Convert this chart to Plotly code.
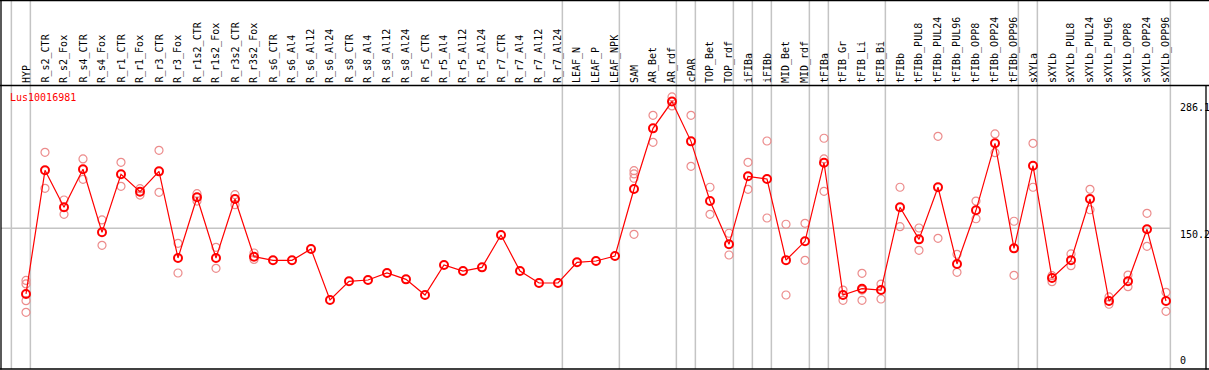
import plotly.graph_objects as go

# ---------------- data ----------------
categories = [
    "HYP", "R_s2_CTR", "R_s2_Fox", "R_s4_CTR", "R_s4_Fox", "R_r1_CTR", "R_r1_Fox",
    "R_r3_CTR", "R_r3_Fox", "R_r1s2_CTR", "R_r1s2_Fox", "R_r3s2_CTR", "R_r3s2_Fox",
    "R_s6_CTR", "R_s6_Al4", "R_s6_Al12", "R_s6_Al24", "R_s8_CTR", "R_s8_Al4",
    "R_s8_Al12", "R_s8_Al24", "R_r5_CTR", "R_r5_Al4", "R_r5_Al12", "R_r5_Al24",
    "R_r7_CTR", "R_r7_Al4", "R_r7_Al12", "R_r7_Al24", "LEAF_N", "LEAF_P", "LEAF_NPK",
    "SAM", "AR_Bet", "AR_rdf", "cPAR", "TOP_Bet", "TOP_rdf", "iFIBa", "iFIBb",
    "MID_Bet", "MID_rdf", "tFIBa", "tFIB_Gr", "tFIB_Li", "tFIB_Bi", "tFIBb",
    "tFIBb_PUL8", "tFIBb_PUL24", "tFIBb_PUL96", "tFIBb_OPP8", "tFIBb_OPP24",
    "tFIBb_OPP96", "sXYLa", "sXYLb", "sXYLb_PUL8", "sXYLb_PUL24", "sXYLb_PUL96",
    "sXYLb_OPP8", "sXYLb_OPP24", "sXYLb_OPP96",
]

means = [
    80.1, 212.1, 172.6, 213.2, 145.9, 207.8, 189.3, 211.0, 118.5, 183.3, 118.5,
    181.5, 119.9, 116.0, 116.0, 128.1, 73.7, 93.6, 95.0, 102.5, 95.7, 79.0, 111.0,
    104.6, 108.5, 143.0, 104.6, 91.8, 91.8, 113.9, 115.3, 120.6, 192.1, 256.9,
    285.5, 243.0, 179.3, 133.1, 205.7, 202.8, 116.2, 136.3, 220.2, 79.0, 85.7,
    84.3, 172.6, 138.4, 194.0, 112.1, 169.4, 240.9, 128.8, 217.0, 97.1, 116.0,
    181.5, 72.6, 93.6, 149.1, 72.6,
]

replicates = [
    [94.5, 90.8, 72.9, 60.5], [231.3, 192.9], [180.4, 165.1], [224.2, 202.5],
    [159.1, 132.0], [220.6, 195.0], [192.5, 185.7], [233.4, 188.6], [134.2, 102.5],
    [187.1, 179.3], [129.9, 107.5], [186.1, 175.4], [123.8, 117.0],
    [], [], [], [], [], [], [], [], [], [], [], [], [], [], [], [], [], [], [],
    [211.7, 208.2, 203.6, 143.8], [270.8, 242.0], [290.4, 280.8], [270.8, 216.4],
    [194.0, 165.1], [144.9, 121.7], [220.6, 191.8], [243.4, 161.2], [154.5, 79.0],
    [155.5, 116.0], [246.3, 224.2, 189.7], [84.3, 73.3], [102.1, 84.3, 73.3],
    [90.7, 74.7], [194.0, 151.9], [150.5, 126.7], [248.4, 139.5], [122.4, 103.2],
    [179.3, 160.4], [250.9, 230.9], [157.7, 100.0], [240.9, 194.0], [99.6, 93.2],
    [122.8, 110.3], [191.8, 170.0], [76.9, 69.1], [100.3, 87.9], [166.2, 131.0],
    [81.9, 61.6],
]

group_ends = [-1, 0, 28, 31, 34, 35, 37, 38, 39, 41, 42, 45, 52, 53, 60]
y_tick_values = [286.1, 150.2, 0]
y_tick_labels = ["286.1", "150.2", "0"]
gene_name = "Lus10016981"

# ---------------- geometry ----------------
W, H = 1209, 370
X0, DX = 26.0, 19.0          # pixel x of first category and spacing
Y0, SY = 369.0, 0.9368       # pixel y of value 0 and pixels per unit

def px2xd(px):
    return (px - X0) / DX

def px2yd(py):
    return (Y0 - py) / SY

def ypap(py):
    return 1 - py / H

xs = list(range(len(categories)))
rep_x, rep_y = [], []
for i, reps in enumerate(replicates):
    for v in reps:
        rep_x.append(i)
        rep_y.append(v)

MONO = "DejaVu Sans Mono"
GRAY = "#c4c4c4"

fig = go.Figure()
fig.add_trace(go.Scatter(
    x=rep_x, y=rep_y, mode="markers",
    marker=dict(symbol="circle-open", size=8, color="rgb(236,140,140)",
                line=dict(width=1.2, color="rgb(236,140,140)")),
    hoverinfo="skip", showlegend=False,
))
fig.add_trace(go.Scatter(
    x=xs, y=means, mode="lines+markers",
    line=dict(color="#ff0000", width=1.2),
    marker=dict(symbol="circle-open", size=8, color="#ff0000",
                line=dict(width=2, color="#ff0000")),
    showlegend=False,
))

shapes = []
for g in group_ends:
    xg = g + 0.23
    shapes.append(dict(type="line", xref="x", yref="paper", x0=xg, x1=xg,
                       y0=ypap(369), y1=1, line=dict(color=GRAY, width=1.5), layer="below"))
shapes.append(dict(type="line", xref="paper", yref="y", x0=1 / W, x1=1170.7 / W,
                   y0=150.2, y1=150.2, line=dict(color=GRAY, width=1.5), layer="below"))
BL = dict(color="black", width=1.3)
shapes.append(dict(type="line", xref="paper", yref="paper", x0=0, x1=1, y0=ypap(0.6), y1=ypap(0.6), line=BL))
shapes.append(dict(type="line", xref="paper", yref="paper", x0=0, x1=1, y0=ypap(85.5), y1=ypap(85.5), line=BL))
shapes.append(dict(type="line", xref="paper", yref="paper", x0=0, x1=1, y0=ypap(369), y1=ypap(369), line=BL))
shapes.append(dict(type="line", xref="paper", yref="paper", x0=1 / W, x1=1 / W, y0=ypap(0), y1=ypap(369.5), line=BL))
shapes.append(dict(type="line", xref="paper", yref="paper", x0=1206 / W, x1=1206 / W, y0=ypap(85.5), y1=ypap(369.5), line=BL))

annotations = []
for i, c in enumerate(categories):
    annotations.append(dict(
        x=i, xref="x", y=ypap(84), yref="paper", text=c, showarrow=False,
        textangle=-90, xanchor="center", yanchor="bottom",
        font=dict(family=MONO, size=10, color="black"), borderpad=0,
    ))
for v, t in zip(y_tick_values, y_tick_labels):
    if v == 0:
        annotations.append(dict(x=1179 / W, xref="paper", y=ypap(367), yref="paper", text=t,
                                showarrow=False, xanchor="left", yanchor="bottom",
                                font=dict(family=MONO, size=10, color="black"), borderpad=0))
    else:
        annotations.append(dict(x=1179 / W, xref="paper", y=v, yref="y", text=t,
                                showarrow=False, xanchor="left", yanchor="top",
                                font=dict(family=MONO, size=10, color="black"), borderpad=0))
annotations.append(dict(x=9 / W, xref="paper", y=ypap(97.5), yref="paper", text=gene_name,
                        showarrow=False, xanchor="left", yanchor="middle",
                        font=dict(family=MONO, size=10, color="#ff0000"), borderpad=0))

fig.update_layout(
    width=W, height=H, margin=dict(l=0, r=0, t=0, b=0),
    paper_bgcolor="white", plot_bgcolor="white",
    xaxis=dict(range=[px2xd(0), px2xd(W)], visible=False, fixedrange=True),
    yaxis=dict(range=[px2yd(H), px2yd(0)], visible=False, fixedrange=True),
    shapes=shapes, annotations=annotations, showlegend=False,
)

fig.write_html("out.html",
               config={"displayModeBar": False, "staticPlot": True},
               post_script="document.body.style.margin='0';document.body.style.padding='0';"
                           "document.body.style.overflow='hidden';")
